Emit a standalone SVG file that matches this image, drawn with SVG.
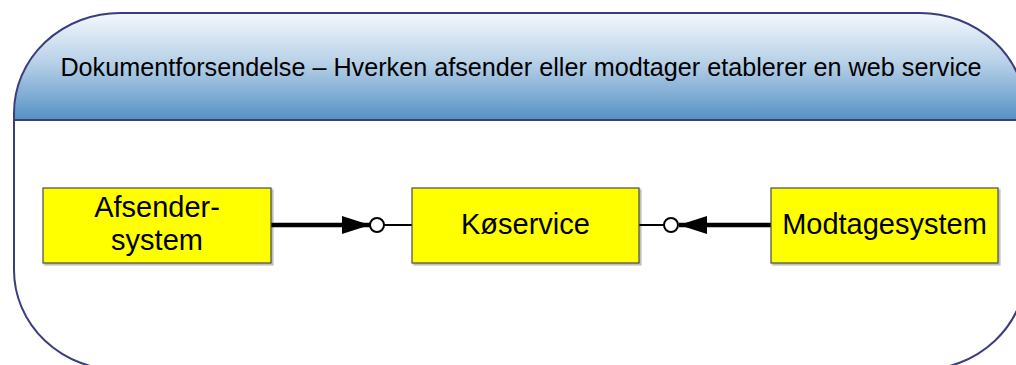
<svg xmlns="http://www.w3.org/2000/svg" width="1016" height="365" viewBox="0 0 1016 365">
  <defs>
    <linearGradient id="headerFill" gradientUnits="userSpaceOnUse" x1="0" y1="13" x2="0" y2="120">
      <stop offset="0" stop-color="#f4f8fc"/>
      <stop offset="0.45" stop-color="#b9d2e8"/>
      <stop offset="1" stop-color="#5591c4"/>
    </linearGradient>
    <clipPath id="headerClip">
      <rect x="14" y="13" width="1012" height="107"/>
    </clipPath>
    <marker id="arrowHead" viewBox="0 0 28 18" refX="28" refY="9" markerWidth="28" markerHeight="18" markerUnits="userSpaceOnUse" orient="auto">
      <path d="M0,0 L28,9 L0,18 Z" fill="#000"/>
    </marker>
    <filter id="shadow" x="-5%" y="-5%" width="115%" height="120%">
      <feOffset dx="1.5" dy="1.5" in="SourceAlpha" result="off"/>
      <feColorMatrix in="off" type="matrix" values="0 0 0 0 0  0 0 0 0 0  0 0 0 0 0  0 0 0 0.25 0" result="sh"/>
      <feMerge><feMergeNode in="sh"/><feMergeNode in="SourceGraphic"/></feMerge>
    </filter>
  </defs>
  <style>
    .frame { fill: none; stroke: #3c3c80; stroke-width: 2; }
    .box { fill: #ffff00; stroke: #4a4a4a; stroke-width: 1.2; filter: url(#shadow); }
    .lbl { font-family: "Liberation Sans", Arial, sans-serif; font-size: 29px; fill: #000; text-anchor: middle; }
    .title { font-family: "Liberation Sans", Arial, sans-serif; font-size: 25.2px; fill: #000; text-anchor: middle; }
    .thick { stroke: #000; stroke-width: 4.5; fill: none; }
    .thin { stroke: #000; stroke-width: 2; fill: none; }
    .socket { fill: #fff; stroke: #000; stroke-width: 2; }
  </style>

  <!-- container with gradient header band -->
  <g id="container">
    <rect x="0" y="0" width="1016" height="365" fill="#fff"/>
    <rect x="14" y="13" width="1012" height="357" rx="106" ry="100" fill="url(#headerFill)" clip-path="url(#headerClip)"/>
    <line x1="14" y1="120" x2="1016" y2="120" stroke="#3c3c80" stroke-width="2"/>
    <rect class="frame" x="14" y="13" width="1012" height="357" rx="106" ry="100"/>
    <text class="title" x="521" y="76">Dokumentforsendelse – Hverken afsender eller modtager etablerer en web service</text>
  </g>

  <!-- connectors -->
  <g id="connectors">
    <line class="thick" x1="271" y1="225" x2="370" y2="225" marker-end="url(#arrowHead)"/>
    <line class="thin" x1="384" y1="225" x2="412" y2="225"/>
    <circle class="socket" cx="377" cy="225" r="7"/>
    <line class="thick" x1="771" y1="225" x2="679" y2="225" marker-end="url(#arrowHead)"/>
    <line class="thin" x1="639" y1="225" x2="664" y2="225"/>
    <circle class="socket" cx="671" cy="225" r="7"/>
  </g>

  <g id="afsendersystem">
    <rect class="box" x="43" y="188" width="228" height="75"/>
    <text class="lbl" x="157" y="217">Afsender-</text>
    <text class="lbl" x="157" y="250">system</text>
  </g>

  <g id="koeservice">
    <rect class="box" x="412" y="188" width="227" height="75"/>
    <text class="lbl" x="525.5" y="234">Køservice</text>
  </g>

  <g id="modtagesystem">
    <rect class="box" x="771" y="188" width="227" height="75"/>
    <text class="lbl" x="884.5" y="234">Modtagesystem</text>
  </g>
</svg>
